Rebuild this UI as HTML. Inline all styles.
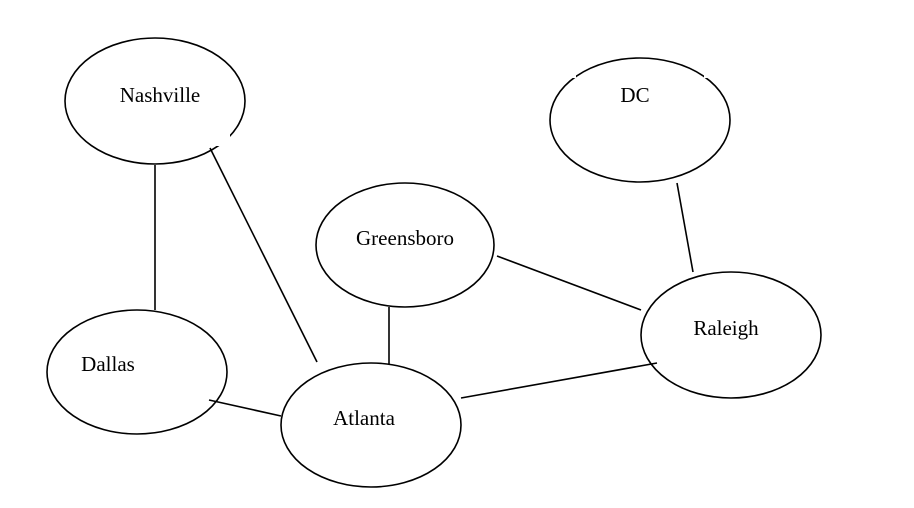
<!DOCTYPE html>
<html><head><style>html,body{margin:0;padding:0;background:#fff;}svg{display:block}</style></head>
<body>
<svg width="914" height="508" viewBox="0 0 914 508" xmlns="http://www.w3.org/2000/svg">
<g fill="none" stroke="#000" stroke-width="1.6">
<ellipse cx="155" cy="101" rx="90" ry="63"/>
<ellipse cx="640" cy="120" rx="90" ry="62"/>
<ellipse cx="405" cy="245" rx="89" ry="62"/>
<ellipse cx="731" cy="335" rx="90" ry="63"/>
<ellipse cx="137" cy="372" rx="90" ry="62"/>
<ellipse cx="371" cy="425" rx="90" ry="62"/>
</g>
<g fill="#fff">
<rect x="216" y="134" width="14" height="12"/>
<rect x="562" y="66" width="14" height="12"/>
<rect x="704" y="66" width="14" height="12"/>
</g>
<g stroke="#000" stroke-width="1.6">
<line x1="155" y1="165" x2="155" y2="310"/>
<line x1="210" y1="148" x2="317" y2="362"/>
<line x1="389" y1="307" x2="389" y2="364"/>
<line x1="497" y1="256" x2="641" y2="310"/>
<line x1="677" y1="183" x2="693" y2="272"/>
<line x1="461" y1="398" x2="657" y2="363"/>
<line x1="209" y1="400" x2="281" y2="416"/>
</g>
<g font-family="Liberation Serif, serif" font-size="21" fill="#000" text-anchor="middle">
<text x="160" y="102">Nashville</text>
<text x="635" y="102">DC</text>
<text x="405" y="245">Greensboro</text>
<text x="726" y="335">Raleigh</text>
<text x="108" y="371">Dallas</text>
<text x="364" y="425">Atlanta</text>
</g>
</svg>
</body></html>
